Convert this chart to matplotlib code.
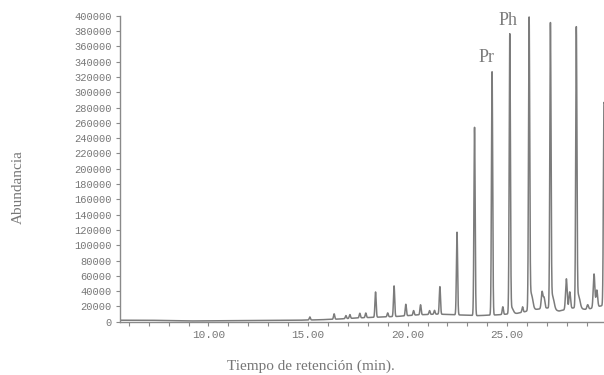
import numpy as np
import matplotlib.pyplot as plt
from matplotlib.ticker import MultipleLocator

# Peaks (retention time in min, abundance above baseline)
peak_times = [15.09, 16.31, 16.9, 17.1, 17.6, 17.9, 18.39, 19.0, 19.32, 19.91,
              20.3, 20.65, 21.1, 21.35, 21.62, 22.48, 23.36, 24.24, 24.78, 25.13,
              25.22, 25.77, 26.10, 26.20, 26.75, 26.85, 27.17, 27.27, 27.97, 28.14,
              28.47, 28.57, 29.04, 29.36, 29.50, 29.86]
peak_heights = [4000, 7000, 4000, 5000, 6000, 6000, 33000, 5000, 40000, 15000,
                6000, 13000, 5000, 5000, 36000, 108000, 246000, 318000, 10000, 362000,
                8000, 7000, 374000, 22000, 22000, 14000, 366000, 18000, 40000, 22000,
                360000, 18000, 6000, 44000, 22000, 265000]
peak_widths = [0.03, 0.03, 0.03, 0.03, 0.03, 0.03, 0.03, 0.03, 0.03, 0.03,
               0.03, 0.03, 0.03, 0.03, 0.03, 0.03, 0.03, 0.03, 0.03, 0.03,
               0.08, 0.03, 0.03, 0.08, 0.04, 0.04, 0.03, 0.08, 0.04, 0.04,
               0.03, 0.08, 0.04, 0.04, 0.04, 0.03]

# Baseline level under the peaks
base_times = [5.5, 7.0, 9.0, 12.0, 14.5, 15.5, 16.5, 17.5, 18.5, 19.5, 20.5, 21.5,
              22.5, 23.5, 24.5, 25.5, 26.4, 27.0, 27.6, 28.3, 29.0, 29.9]
base_levels = [2000, 2000, 1000, 1500, 2000, 2500, 3500, 5000, 6000, 7000, 9000, 10000,
               9000, 8000, 9000, 11000, 16000, 18000, 14000, 18000, 16000, 22000]

y_ticks = list(range(0, 400001, 20000))
x_ticks = [10, 15, 20, 25]
x_tick_labels = ["10.00", "15.00", "20.00", "25.00"]

gray = "#7c7c7c"

t = np.arange(5.5, 29.9, 0.002)
signal = np.interp(t, base_times, base_levels)
for tp, h, w in zip(peak_times, peak_heights, peak_widths):
    signal += h * np.exp(-0.5 * ((t - tp) / w) ** 2)

fig = plt.figure(figsize=(6.04, 3.75), dpi=100)
ax = fig.add_axes([0.1987, 0.142, 0.8013, 0.816])

ax.plot(t, signal, color=gray, lw=1.1)

ax.set_xlim(5.56, 29.86)
ax.set_ylim(0, 400000)

for side in ["top", "right"]:
    ax.spines[side].set_visible(False)
for side in ["left", "bottom"]:
    ax.spines[side].set_color("#8a8a8a")
    ax.spines[side].set_linewidth(1.0)

ax.set_yticks(y_ticks)
ax.set_yticklabels([str(v) for v in y_ticks], family="Liberation Mono", fontsize=7.5, color="#777777")
ax.set_xticks(x_ticks)
ax.set_xticklabels(x_tick_labels, family="Liberation Mono", fontsize=8, color="#777777")
ax.xaxis.set_minor_locator(MultipleLocator(1))
ax.tick_params(axis="both", which="both", length=3, width=0.8, color="#8a8a8a", pad=3)

ax.text(23.94, 345000, "Pr", family="Liberation Serif", fontsize=13, color=gray, ha="center", va="center")
ax.text(25.05, 393700, "Ph", family="Liberation Serif", fontsize=13, color=gray, ha="center", va="center")

fig.text(0.03, 0.50, "Abundancia", rotation=90, family="Liberation Serif", fontsize=11,
         color="#777777", ha="center", va="center")
fig.text(0.515, 0.024, "Tiempo de retención (min).", family="Liberation Serif", fontsize=11,
         color="#777777", ha="center", va="center")

fig.savefig("out.png", dpi=100, facecolor="white")
